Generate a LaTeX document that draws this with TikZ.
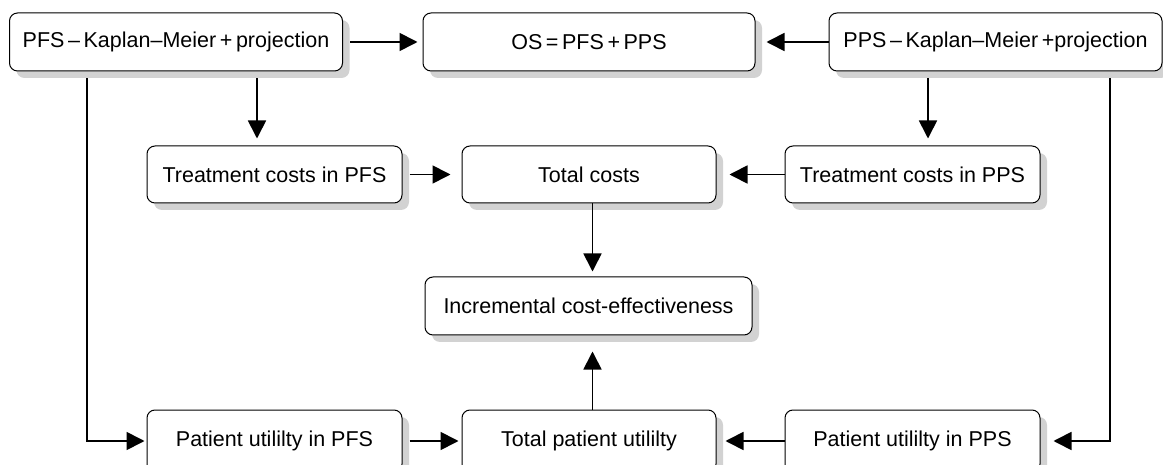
\documentclass[tikz,border=0pt]{standalone}
\usepackage{fontspec}
\setmainfont{Liberation Sans}
\usetikzlibrary{arrows.meta, shadows}
\usetikzlibrary{positioning}
\tikzstyle{box} = [
    rectangle,
    rounded corners=8pt,
    draw=black,
    fill=white,
    line width=1pt,
    font=\fontsize{21.5}{25}\selectfont,
    align=center,
    inner sep=0pt,
    minimum height=58pt,
    drop shadow={shadow xshift=7pt, shadow yshift=-7pt, fill=gray!35, opacity=1}
]
\tikzstyle{top_box} = [box, minimum width=333pt]
\tikzstyle{mid_box} = [box, minimum width=255pt, minimum height=57pt]
\tikzstyle{low_box} = [box, minimum width=255pt, minimum height=62pt]
\tikzstyle{link} = [
    -{Triangle[length=18pt, width=18pt]},
    line width=1.7pt
]

\begin{document}
\begin{tikzpicture}[x=1pt, y=-1pt]
\useasboundingbox (0,0) rectangle (1163,465);

% survival
\node [top_box] (pfs_km) at (176,42) {PFS\,–\,Kaplan–Meier\,+\,projection};
\node [top_box, minimum width=332pt] (os) at (589,42) {OS\,=\,PFS\,+\,PPS};
\node [top_box] (pps_km) at (995.5,42) {PPS\,–\,Kaplan–Meier\,+projection};

% costs
\node [mid_box] (cost_pfs) at (274.5,174.5) {Treatment costs in PFS};
\node [mid_box, minimum width=254pt] (cost_total) at (589,174.5) {Total costs};
\node [mid_box] (cost_pps) at (912.5,174.5) {Treatment costs in PPS};

\node [box, minimum width=327pt] (icer) at (588.5,306) {Incremental cost-effectiveness};

% utility
\node [low_box] (util_pfs) at (274.5,441) {Patient utililty in PFS};
\node [low_box, minimum width=254pt] (util_total) at (589,441) {Total patient utililty};
\node [low_box] (util_pps) at (912.5,441) {Patient utililty in PPS};

\draw [link, shorten <=7pt, shorten >=5pt] (pfs_km) -- (os);
\draw [link, shorten >=11pt] (pps_km) -- (os);
\draw [link, shorten <=7pt, shorten >=7pt] ([xshift=81pt]pfs_km.south) -- ([xshift=-17.5pt]cost_pfs.north);
\draw [link, shorten <=7pt, shorten >=7pt] ([xshift=-67.5pt]pps_km.south) -- ([xshift=15.5pt]cost_pps.north);
\draw [link, shorten <=7pt, shorten >=11pt] (cost_pfs) -- (cost_total);
\draw [link, shorten >=13pt] (cost_pps) -- (cost_total);
\draw [link, shorten >=5pt] ([xshift=3.5pt]cost_total.south) -- ([xshift=4pt]icer.north);
\draw [link, shorten >=16pt] ([xshift=3.5pt]util_total.north) -- ([xshift=4pt]icer.south);
\draw [link, shorten <=7pt, shorten >=2pt] ([xshift=-89pt]pfs_km.south) |- (util_pfs);
\draw [link, shorten <=7pt, shorten >=13pt] ([xshift=114.5pt]pps_km.south) |- (util_pps);
\draw [link, shorten <=7pt, shorten >=3pt] (util_pfs) -- (util_total);
\draw [link, shorten >=9pt] (util_pps) -- (util_total);
\end{tikzpicture}
\end{document}
